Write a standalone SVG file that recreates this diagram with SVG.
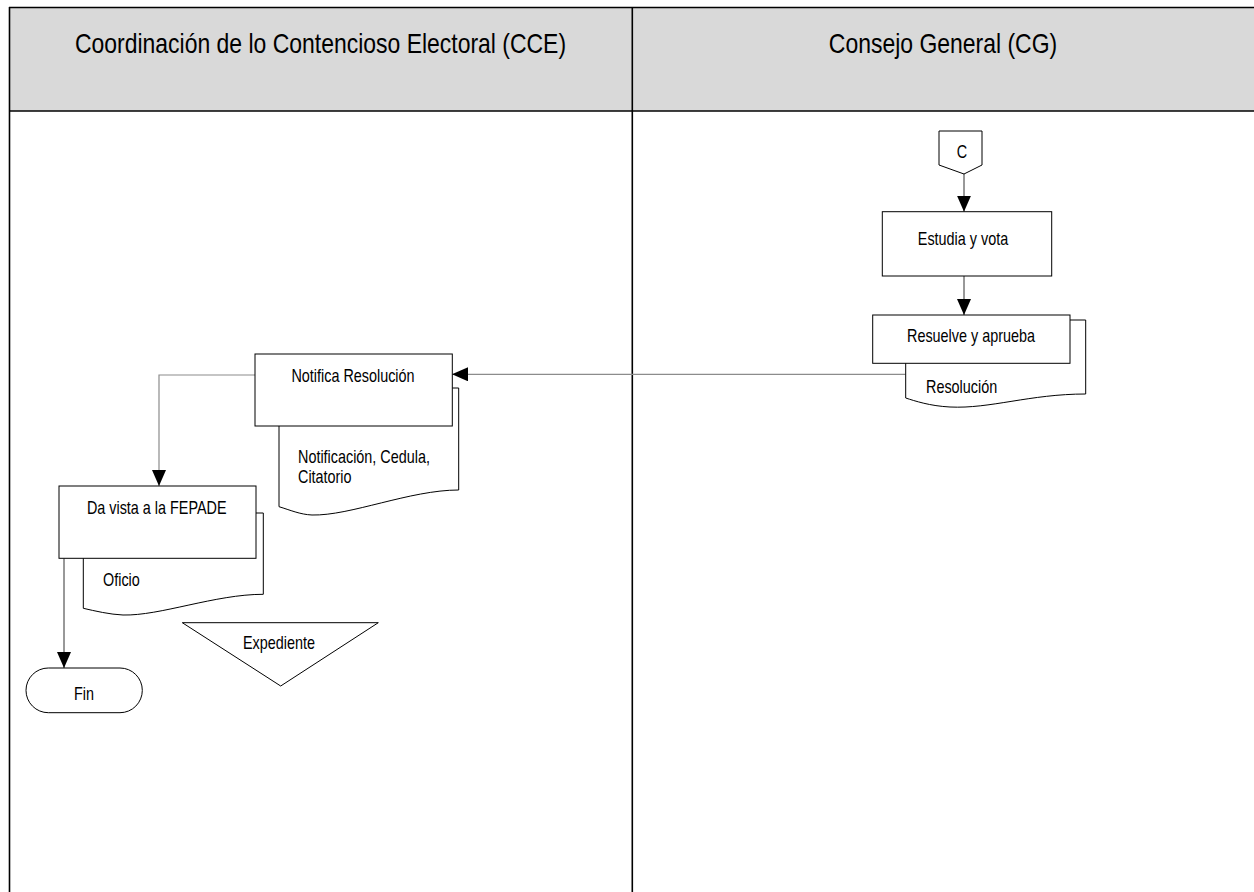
<svg xmlns="http://www.w3.org/2000/svg" width="1254" height="892" viewBox="0 0 1254 892">
<defs>
<style>
.lane{fill:#d9d9d9;stroke:none}
.grid{stroke:#000;stroke-width:1.6;fill:none}
.box{fill:#fff;stroke:#000;stroke-width:1}
.hdr{font-family:"Liberation Sans",Arial,sans-serif;font-size:28px;fill:#000;text-anchor:middle}
.t{font-family:"Liberation Sans",Arial,sans-serif;font-size:18px;fill:#000}
.m{text-anchor:middle}
.s{text-anchor:start}
.c1{fill:none;stroke:#333;stroke-width:1}
.c2{fill:none;stroke:#8c8c8c;stroke-width:1.2}
</style>
<marker id="ah" markerUnits="userSpaceOnUse" markerWidth="17" markerHeight="14" refX="16" refY="7" orient="auto">
<path d="M0,0 L16,7 L0,14 z" fill="#000"/>
</marker>
</defs>
<g id="table">
<rect class="lane" x="9" y="7" width="1245" height="104"/>
<line class="grid" x1="9" y1="7.5" x2="1254" y2="7.5"/>
<line class="grid" x1="9" y1="111" x2="1254" y2="111"/>
<line class="grid" x1="9.5" y1="7" x2="9.5" y2="892"/>
<line class="grid" x1="632.3" y1="7" x2="632.3" y2="892"/>
<text class="hdr" transform="translate(320.5,52.5) scale(0.82,1)">Coordinación de lo Contencioso Electoral (CCE)</text>
<text class="hdr" transform="translate(943,52.5) scale(0.82,1)">Consejo General (CG)</text>
</g>
<g id="connectors">
<line class="c1" x1="964" y1="174" x2="964" y2="211.7" marker-end="url(#ah)"/>
<line class="c1" x1="964" y1="276" x2="964" y2="315" marker-end="url(#ah)"/>
<path class="c2" d="M905.7,374.3 H452" marker-end="url(#ah)"/>
<path class="c2" d="M255,375 H159 V486" marker-end="url(#ah)"/>
<line class="c1" x1="64" y1="558.3" x2="64" y2="668" marker-end="url(#ah)"/>
</g>
<g id="node-c">
<polygon class="box" points="939,131 982,131 982,165 964,174 939,165"/>
<text class="t m" transform="translate(962,158) scale(0.8,1)">C</text>
</g>
<g id="node-estudia">
<rect class="box" x="882.3" y="211.7" width="169.4" height="64.3"/>
<text class="t m" transform="translate(963,245) scale(0.8,1)">Estudia y vota</text>
</g>
<g id="node-resuelve">
<path class="box" d="M905.7,320 H1085.7 V394 C1030,394 990,409 950,407 C930,406 915,401 905.7,398 Z"/>
<rect class="box" x="872.7" y="315" width="197.3" height="48.3"/>
<text class="t m" transform="translate(971,341.7) scale(0.8,1)">Resuelve y aprueba</text>
<text class="t s" transform="translate(926,392.6) scale(0.8,1)">Resolución</text>
</g>
<g id="node-notifica">
<path class="box" d="M279,388 H458.7 V490 C410,490 350,516 312,515 C300,514.5 290,510 279,506.7 Z"/>
<rect class="box" x="255" y="354" width="197.3" height="72"/>
<text class="t m" transform="translate(353,381.7) scale(0.8,1)">Notifica Resolución</text>
<text class="t s" transform="translate(298,462.7) scale(0.8,1)">Notificación, Cedula,</text>
<text class="t s" transform="translate(298,482.7) scale(0.8,1)">Citatorio</text>
</g>
<g id="node-davista">
<path class="box" d="M83.3,513 H263.3 V594.3 C215,594.3 160,616 123,615 C110,614.5 95,611 83.3,608.3 Z"/>
<rect class="box" x="59" y="486" width="197" height="72.3"/>
<text class="t m" transform="translate(156.7,514) scale(0.8,1)">Da vista a la FEPADE</text>
<text class="t s" transform="translate(103,586) scale(0.8,1)">Oficio</text>
</g>
<g id="node-expediente">
<polygon class="box" points="182.3,622.7 378.3,622.7 280.7,686"/>
<text class="t m" transform="translate(279,649) scale(0.8,1)">Expediente</text>
</g>
<g id="node-fin">
<rect class="box" x="26" y="668" width="116.3" height="44.7" rx="22.3" ry="22.3"/>
<text class="t m" transform="translate(84,700) scale(0.8,1)">Fin</text>
</g>
</svg>
